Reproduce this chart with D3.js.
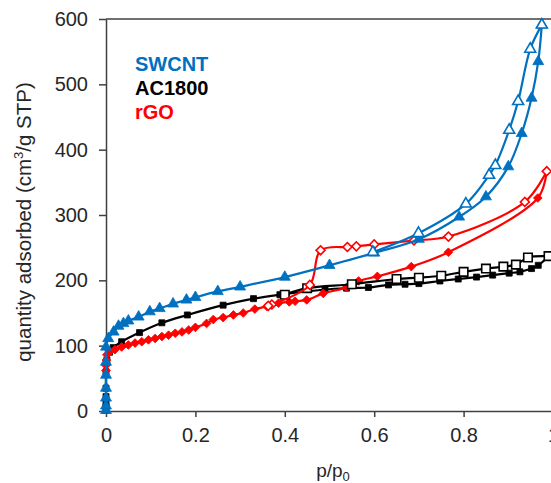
<!DOCTYPE html>
<html>
<head>
<meta charset="utf-8">
<script src="https://d3js.org/d3.v7.min.js"></script>
<style>
  body { margin: 0; background: #fff; }
  svg text { font-family: "Liberation Sans", Arial, sans-serif; }
</style>
</head>
<body>
<div id="chart"></div>
<script>
// isotherm data, [p/p0, quantity adsorbed]
var swcntAds = [[0,1],[0,8],[0,20],[0,35],[0,55],[0,75],[0,98],
    [0.005,111],[0.017,121],[0.028,130],[0.039,134],[0.05,138],[0.073,144],[0.098,152],
    [0.12,157],[0.15,164],[0.18,170],[0.2,174],[0.25,183],[0.3,190],[0.4,205],[0.5,223],
    [0.6,242],[0.7,263],[0.79,297],[0.85,328],[0.9,374],[0.93,425],[0.952,479],[0.967,535],[0.975,591]];
var swcntDes = [[0.975,591],[0.949,554],[0.922,474],[0.902,430],[0.871,376],[0.857,361],
    [0.805,317],[0.699,272],[0.597,243]];

var acAds = [[0,1],[0,7],[0,12],[0,22],[0,35],[0,60],[0.002,78],[0.008,90],[0.016,97],
    [0.035,106],[0.075,120],[0.125,135],[0.182,147],[0.262,162],[0.33,172],[0.389,178],
    [0.49,186],[0.538,188],[0.587,189],[0.632,193],[0.669,194],[0.7,195],[0.747,199],
    [0.788,202],[0.829,205],[0.865,208],[0.902,211],[0.926,213],[0.952,218],[0.967,223],[0.99,237]];
var acDes = [[0.99,237],[0.944,235],[0.917,224],[0.889,221],[0.85,218],[0.8,213],[0.75,207],
    [0.7,204],[0.65,202],[0.55,194],[0.45,188],[0.4,178]];

var rgoAds = [[0,62],[0,70],[0.001,78],[0.002,86],[0.009,91],[0.02,94],[0.035,98],[0.05,101],
    [0.065,104],[0.08,106],[0.095,109],[0.11,111],[0.125,114],[0.14,116],[0.155,119],[0.17,121],
    [0.185,124],[0.2,128],[0.225,134],[0.24,140],[0.262,143],[0.285,147],[0.307,150],[0.333,156],
    [0.36,160],[0.386,165],[0.41,167],[0.423,168],[0.449,170],[0.486,180],[0.538,189],[0.565,199],
    [0.607,206],[0.683,221],[0.766,243],[0.966,326],[0.986,367]];
var rgoDes = [[0.986,367],[0.937,320],[0.766,267],[0.689,261],[0.6,255],[0.56,252],[0.54,251],
    [0.48,246],[0.456,193],[0.371,163],[0.363,161]];

var xTicks = [0, 0.2, 0.4, 0.6, 0.8, 1];
var yTicks = [0, 100, 200, 300, 400, 500, 600];
var legendNames = ["SWCNT", "AC1800", "rGO"];

var blue = "#0070C0", black = "#000000", red = "#FF0000";
var axisColor = "#404040";

var width = 551, height = 483;

var svg = d3.select("#chart").append("svg")
    .attr("width", width)
    .attr("height", height);

var x = d3.scaleLinear().domain([0, 1]).range([106, 553]);
var y = d3.scaleLinear().domain([0, 600]).range([411, 19]);

// axes
var yAxis = svg.append("g")
    .attr("transform", "translate(" + x(0) + ",0)")
    .call(d3.axisLeft(y).tickValues(yTicks).tickSize(7).tickSizeOuter(0).tickPadding(11));

var xAxis = svg.append("g")
    .attr("transform", "translate(0," + y(0) + ")")
    .call(d3.axisBottom(x).tickValues(xTicks).tickFormat(d3.format("")).tickSize(6).tickSizeOuter(0).tickPadding(11));

[xAxis, yAxis].forEach(function (a) {
    a.select(".domain").attr("stroke", axisColor).attr("stroke-width", 1.5);
    a.selectAll(".tick line").attr("stroke", axisColor).attr("stroke-width", 1.5);
    a.selectAll(".tick text").attr("fill", "#262626").style("font-size", "20px");
});

// top frame line
svg.append("line")
    .attr("x1", x(0)).attr("x2", x(1))
    .attr("y1", y(600)).attr("y2", y(600))
    .attr("stroke", axisColor).attr("stroke-width", 1.5);

// axis titles
var yTitle = svg.append("text")
    .attr("transform", "translate(31," + 222 + ") rotate(-90)")
    .attr("text-anchor", "middle")
    .attr("fill", "#262626")
    .style("font-size", "20.5px");
yTitle.append("tspan").text("quantity adsorbed (cm");
yTitle.append("tspan").attr("dy", -8).style("font-size", "13px").text("3");
yTitle.append("tspan").attr("dy", 8).text("/g STP)");

var xTitle = svg.append("text")
    .attr("x", 333).attr("y", 477)
    .attr("text-anchor", "middle")
    .attr("fill", "#262626")
    .style("font-size", "19px");
xTitle.append("tspan").text("p/p");
xTitle.append("tspan").attr("dy", 4).style("font-size", "13px").text("0");

// series
var line = d3.line()
    .x(function (d) { return x(d[0]); })
    .y(function (d) { return y(d[1]); })
    .curve(d3.curveCatmullRom.alpha(0.5));

function drawSeries(data, color, symbol, size, filled, rotate) {
    var g = svg.append("g");
    g.append("path")
        .datum(data)
        .attr("d", line)
        .attr("fill", "none")
        .attr("stroke", color)
        .attr("stroke-width", 2.2);
    g.selectAll("path.mark")
        .data(data)
        .enter().append("path")
            .attr("class", "mark")
            .attr("d", d3.symbol().type(symbol).size(size))
            .attr("transform", function (d) {
                return "translate(" + x(d[0]) + "," + y(d[1]) + ")" + (rotate ? " rotate(45)" : "");
            })
            .attr("fill", filled ? color : "#fff")
            .attr("stroke", color)
            .attr("stroke-width", filled ? 0.8 : 1.6);
}

drawSeries(acAds, black, d3.symbolSquare, 36, true, false);
drawSeries(rgoAds, red, d3.symbolSquare, 38, true, true);
drawSeries(acDes, black, d3.symbolSquare, 72, false, false);
drawSeries(rgoDes, red, d3.symbolSquare, 40, false, true);
drawSeries(swcntAds, blue, d3.symbolTriangle, 52, true, false);
drawSeries(swcntDes, blue, d3.symbolTriangle, 52, false, false);

// legend
var legendColors = [blue, black, red];
svg.selectAll("text.legend")
    .data(legendNames)
    .enter().append("text")
        .attr("class", "legend")
        .attr("x", 135)
        .attr("y", function (d, i) { return 71 + i * 24; })
        .attr("fill", function (d, i) { return legendColors[i]; })
        .style("font-size", "20px")
        .style("font-weight", "bold")
        .text(function (d) { return d; });
</script>
</body>
</html>
